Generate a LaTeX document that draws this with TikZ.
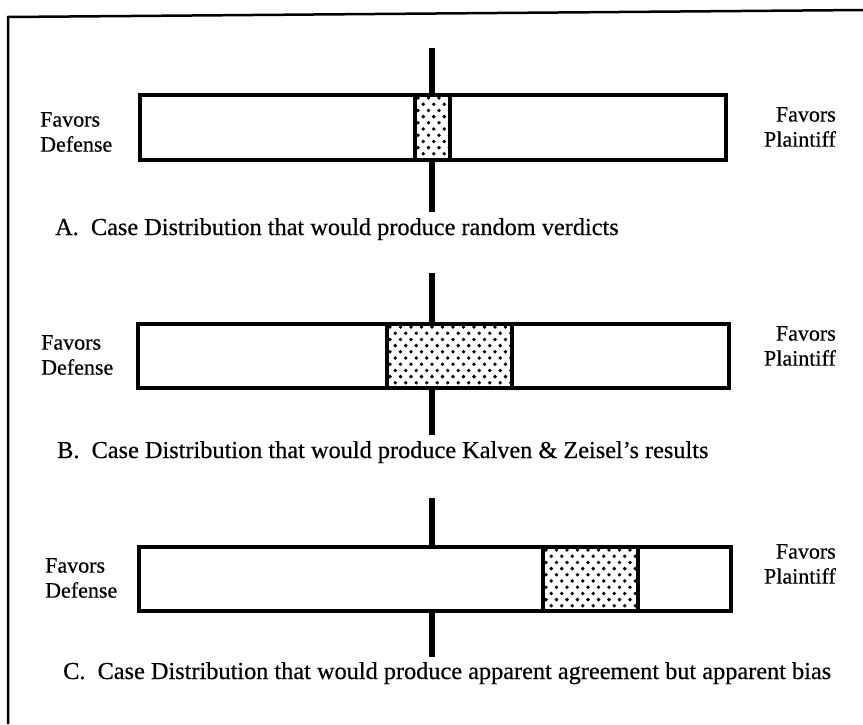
\documentclass[tikz,border=0pt]{standalone}
\usepackage{fontspec}
\setmainfont{Liberation Serif}[FakeBold=0.5]
\newcommand{\dotbox}[4]{%
  \begin{scope}
    \clip (#1,#2) rectangle (#3,#4);
    \foreach \r in {0,...,11} {
      \foreach \c in {0,...,13} {
        \fill ({#1+3+\c*10.5+mod(\r,2)*5.25},{#2+3+\r*6.2}) circle (1.9pt);
      }
    }
  \end{scope}
  \draw [bar] (#1,#2) rectangle (#3,#4);
}
\begin{document}
\begin{tikzpicture}[x=1pt,y=-1pt]
    \tikzstyle{every node}+=[inner sep=0pt,font=\fontsize{22}{25}\selectfont]
    \tikzstyle{caption}=[anchor=base west,font=\fontsize{24.3}{28}\selectfont]
    \tikzstyle{bar}=[black,line width=3.8pt]
    \tikzstyle{midline}=[black,line width=5.8pt]
    \tikzstyle{frame}=[black,line width=2.5pt]
    \useasboundingbox (0,0) rectangle (863,724);
    \draw [frame] (8,724) -- (8,17) -- (863,10);
    \draw [bar] (140,95) rectangle (726,160);
    \dotbox{415}{95}{450}{160}
    \draw [midline] (432,48) -- (432,95);
    \draw [midline] (432,160) -- (432,212);
    \node [align=left,anchor=west] (defA) at (40,132) {Favors\\Defense};
    \node [align=right,anchor=east] (plaA) at (836,127) {Favors\\Plaintiff};
    \node [caption] (capA) at (55,235) {A.\ \ Case Distribution that would produce random verdicts};
    \draw [bar] (138,324) rectangle (729,388);
    \dotbox{387}{324}{512}{388}
    \draw [midline] (432,273) -- (432,324);
    \draw [midline] (432,388) -- (432,435);
    \node [align=left,anchor=west] (defB) at (41,355) {Favors\\Defense};
    \node [align=right,anchor=east] (plaB) at (836,346) {Favors\\Plaintiff};
    \node [caption] (capB) at (57,458) {B.\ \ Case Distribution that would produce Kalven \& Zeisel's results};
    \draw [bar] (139,547) rectangle (731,611);
    \dotbox{543}{547}{638}{611}
    \draw [midline] (432,498) -- (432,547);
    \draw [midline] (432,611) -- (432,657);
    \node [align=left,anchor=west] (defC) at (45,578) {Favors\\Defense};
    \node [align=right,anchor=east] (plaC) at (836,564) {Favors\\Plaintiff};
    \node [caption] (capC) at (63,679) {C.\ \ Case Distribution that would produce apparent agreement but apparent bias};
    \end{tikzpicture}
\end{document}
